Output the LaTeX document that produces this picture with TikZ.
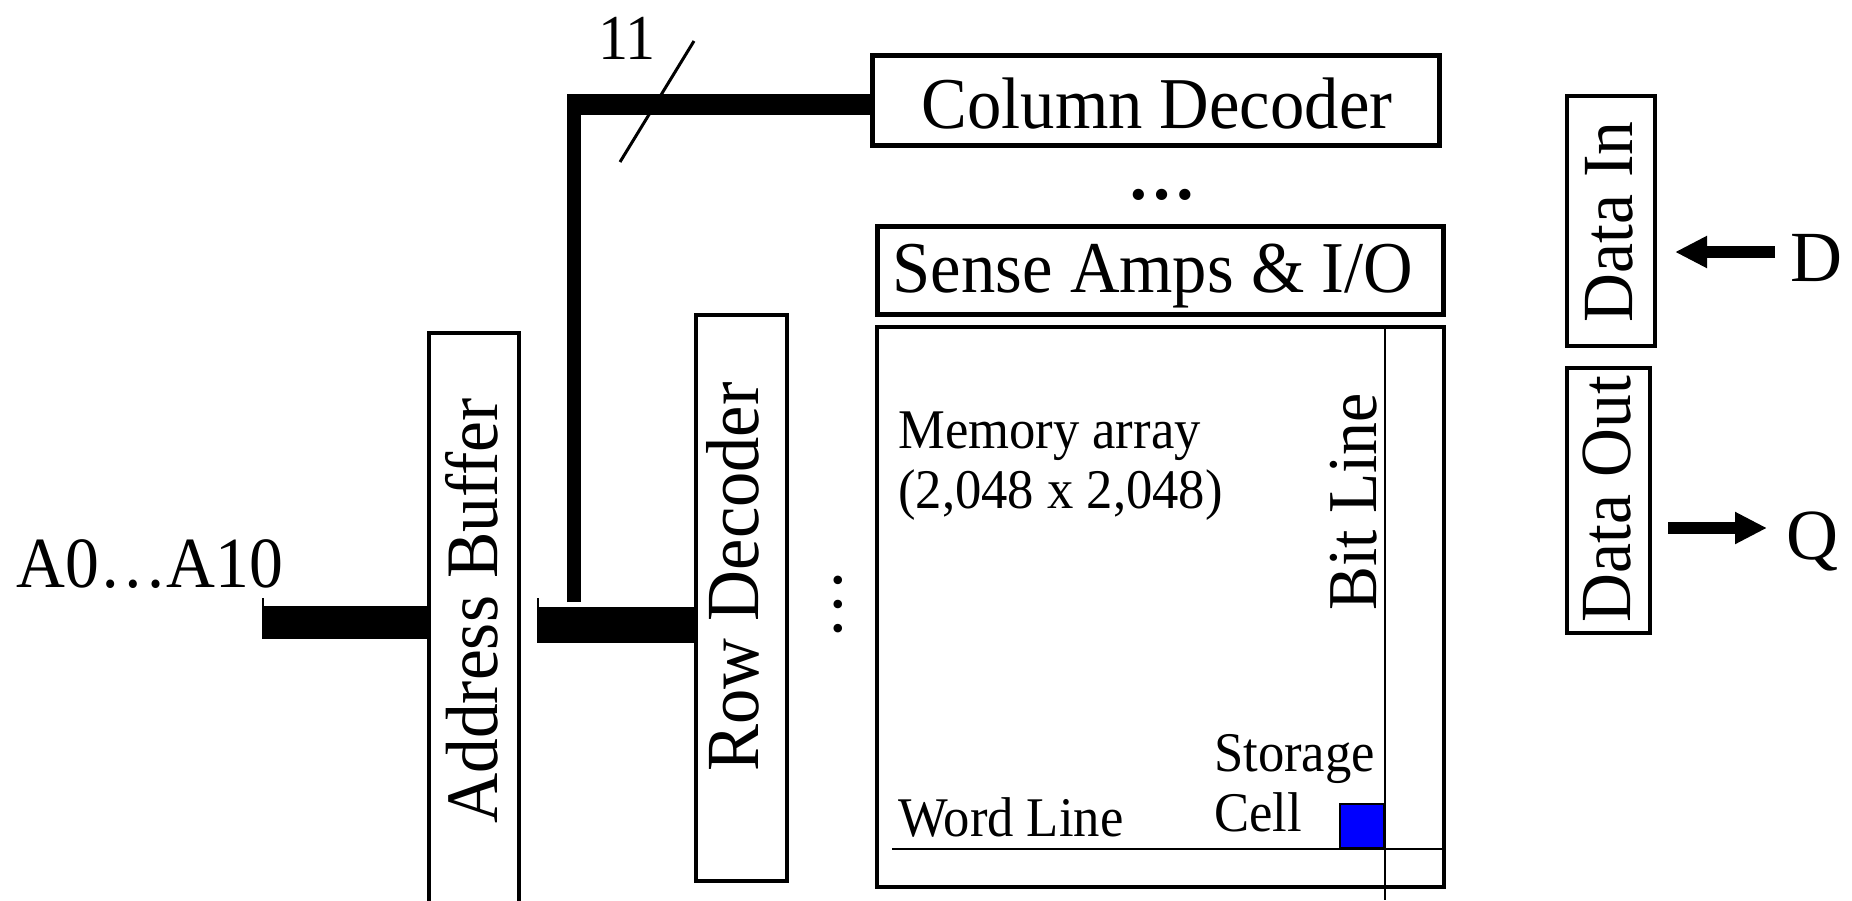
\documentclass[tikz,border=0pt]{standalone}
\usepackage{fontspec}
\setmainfont{Liberation Serif}
\newfontfamily\narrowserif[FakeStretch=0.94]{Liberation Serif}
\usetikzlibrary{arrows.meta}
\definecolor{cellblue}{RGB}{0,0,255}
\begin{document}
\begin{tikzpicture}[x=1pt,y=-1pt,
  box/.style={draw, rectangle, inner sep=0pt, line width=#1},
  box/.default=4pt,
  lbl/.style={font=\narrowserif\fontsize{#1}{60}\selectfont, inner sep=0pt},
  pin/.style={font=\fontsize{72}{80}\selectfont, inner sep=0pt},
  note/.style={font=\narrowserif\fontsize{56}{60}\selectfont, inner sep=0pt, align=left},
  bus/.style={line width=#1},
  sig/.style={line width=12pt, -{Triangle[length=32pt,width=30pt]}},
]
\useasboundingbox (0,0) rectangle (1852,900);
\clip (0,0) rectangle (1852,900);

% decoders and array blocks
\node[box=5pt, minimum width=567, minimum height=90] (coldec) at (1156,100.5) {};
\node[lbl=73] (coldeclbl) at (1157,104) {Column Decoder};
\node[box=5pt, minimum width=566, minimum height=88] (sense) at (1160.5,270.5) {};
\node[lbl=73] (senselbl) at (1153,276) {Sense Amps \& I/O};
\node[box=4pt, minimum width=567, minimum height=560] (mem) at (1160.5,607) {};
\node[box=4pt, minimum width=91, minimum height=566] (rowdec) at (741.5,598) {};
\node[lbl=75, rotate=90] (rowdeclbl) at (733,577) {Row Decoder};

% address buffer (runs past the lower edge)
\draw[line width=4pt] (429,333) rectangle (519,940);
\coordinate (abufW) at (427,622);
\node[lbl=74, rotate=90] (abuflbl) at (472,611) {Address Buffer};

% data in / data out
\node[box=4pt, minimum width=88, minimum height=250] (din) at (1611,221) {};
\node[lbl=72, rotate=90] (dinlbl) at (1609,222) {Data In};
\node[box=4pt, minimum width=83, minimum height=265] (dout) at (1608.5,500.5) {};
\node[lbl=72, rotate=90] (doutlbl) at (1607,499) {Data Out};

\node[pin] (dsig) at (1816,258) {D};
\node[pin] (qsig) at (1812,541) {Q};
\coordinate (dstart) at (1775,252);
\coordinate (dend) at (1675,252);
\coordinate (qstart) at (1668,528);
\coordinate (qend) at (1767,528);
\draw[sig] (dstart) -- (dend);
\draw[sig] (qstart) -- (qend);

% address bus
\node[lbl=72] (alabel) at (150,564) {A0\ldots A10};
\coordinate (ain) at (262,622);
\draw[bus=33pt] (ain) -- (abufW);
\coordinate (bstart) at (537,624.5);
\draw[bus=36pt] (bstart) -- (bstart -| rowdec.west);
\draw[line width=2pt] (263,598) -- (263,610);
\draw[line width=2pt] (538,598) -- (538,608);

% column address tap
\coordinate (tap) at (574,602);
\coordinate (corner) at (574,94);
\draw[bus=14pt] (tap) -- (corner);
\coordinate (hstart) at (567,104.5);
\draw[bus=21pt] (hstart) -- (hstart -| coldec.west);
\coordinate (slashlo) at (620,162);
\coordinate (slashhi) at (694,41);
\draw[line width=3pt] (slashlo) -- (slashhi);
\node[lbl=64] (buswidth) at (627,38) {11};

% continuation dots
\node[font=\bfseries\fontsize{69}{72}\selectfont, inner sep=0pt] (hdots) at (1162,195) {\ldots};
\node[font=\fontsize{72}{76}\selectfont, inner sep=0pt, rotate=90] (vdots) at (838,604) {\ldots};

% memory array contents
\node[note, anchor=west] (memlbl) at (898,466) {Memory array\\(2,048 x 2,048)};
\coordinate (bltop) at (1385,327);
\coordinate (blbot) at (1385,900);
\draw[line width=2pt] (bltop) -- (blbot);
\coordinate (wlstart) at (892,849);
\draw[line width=1.5pt] (wlstart) -- (wlstart -| mem.east);
\node[lbl=70, rotate=90] (bllbl) at (1354,502) {Bit Line};
\node[note, anchor=west] (wllbl) at (898,817) {Word Line};
\node[note, anchor=west] (celllbl) at (1214,783) {Storage\\Cell};
\node[draw, line width=2pt, fill=cellblue, minimum size=44, inner sep=0pt] (cell) at (1361.5,826) {};
\end{tikzpicture}
\end{document}
